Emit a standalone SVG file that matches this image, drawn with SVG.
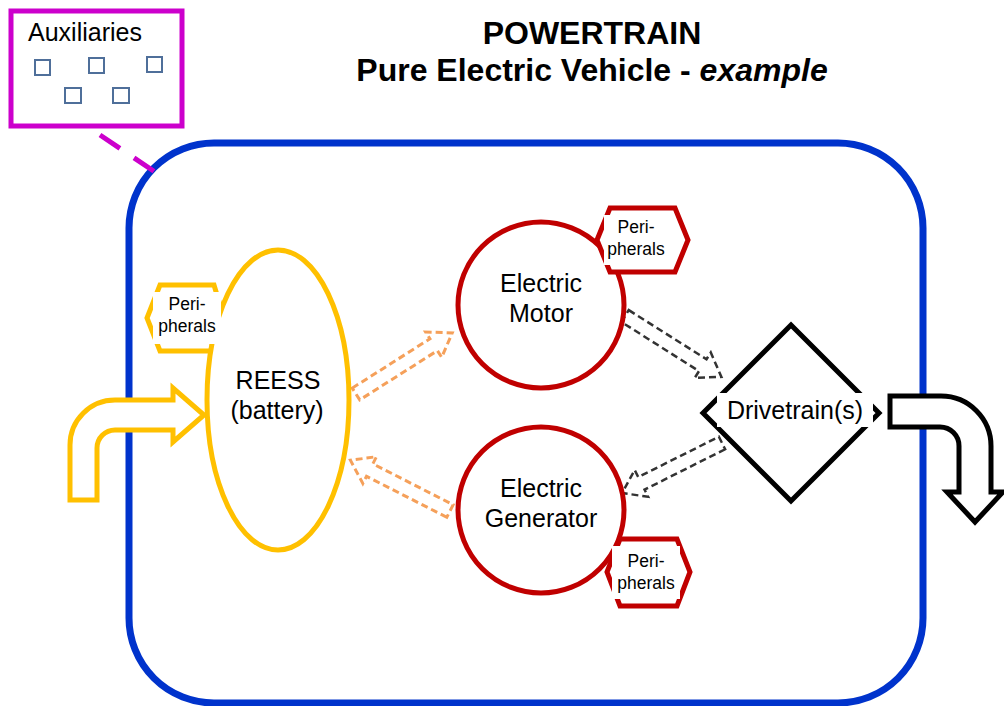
<svg xmlns="http://www.w3.org/2000/svg" width="1004" height="706" viewBox="0 0 1004 706">
<style>
text{font-family:"Liberation Sans",Arial,sans-serif;fill:#000}
.lbl{font-size:25px;text-anchor:middle}
.per{font-size:17.5px;text-anchor:middle}
.sq{fill:none;stroke:#4F6F9A;stroke-width:2}
.oarr{fill:#fff;stroke:#F5A05A;stroke-width:3;stroke-dasharray:7 4}
.karr{fill:#fff;stroke:#333;stroke-width:2.5;stroke-dasharray:7 4}
.wbox{fill:#fff}
</style>
<defs>
<polygon id="blk" points="0,-7 92,-7 92,-15 114,0 92,15 92,7 0,7"/>
</defs>
<rect width="1004" height="706" fill="#fff"/>
<g id="title">
<text x="592" y="44" font-size="32" font-weight="bold" text-anchor="middle">POWERTRAIN</text>
<text x="592" y="81" font-size="32" font-weight="bold" text-anchor="middle">Pure Electric Vehicle - <tspan font-style="italic">example</tspan></text>
</g>
<g id="powertrain">
<rect x="129" y="143" width="794" height="560" rx="85" ry="85" fill="none" stroke="#0033CC" stroke-width="7"/>
</g>
<g id="auxiliaries">
<rect x="11" y="11" width="171" height="115" fill="#fff" stroke="#CC00CC" stroke-width="5"/>
<text x="28" y="41" font-size="25">Auxiliaries</text>
<rect class="sq" x="35" y="60" width="15" height="15"/>
<rect class="sq" x="89" y="58" width="15" height="15"/>
<rect class="sq" x="147" y="57" width="15" height="15"/>
<rect class="sq" x="65" y="88" width="16" height="15"/>
<rect class="sq" x="113" y="88" width="16" height="15"/>
</g>
<g id="connectors">
<line x1="100" y1="135" x2="155" y2="172" stroke="#CC00CC" stroke-width="5" stroke-dasharray="24 17"/>
<path d="M70,500 L70,445 A45,45 0 0 1 115,400 L173,400 L173,388 L204,415 L173,442 L173,430 L115,430 A18,18 0 0 0 97,448 L97,500 Z" fill="#fff" stroke="#FFC000" stroke-width="5" stroke-linejoin="miter"/>
<use href="#blk" class="oarr" transform="translate(356,394) rotate(-32.4)"/>
<use href="#blk" class="oarr" transform="translate(450,511) rotate(-153) scale(0.98,1)"/>
<use href="#blk" class="karr" transform="translate(625,316) rotate(32.3)"/>
<use href="#blk" class="karr" transform="translate(722,443) rotate(153.4) scale(0.98,1)"/>
<path d="M890,396 L941,396 A50,50 0 0 1 991,446 L991,492 L1003,492 L975,522 L947,492 L959,492 L959,446 A19,19 0 0 0 940,427 L890,427 Z" fill="#fff" stroke="#000" stroke-width="5"/>
</g>
<g id="reess">
<polygon points="147,318 160,285 214,285 224,318 214,351 160,351" fill="#fff" stroke="#FFC000" stroke-width="5"/>
<ellipse cx="278" cy="400" rx="71" ry="150" fill="#fff" stroke="#FFC000" stroke-width="5"/>
<text class="lbl" x="278" y="389">REESS</text>
<text class="lbl" x="277" y="419">(battery)</text>
</g>
<g id="reess-peripherals">
<rect class="wbox" x="153" y="292" width="68" height="52"/>
<text class="per" x="187" y="310">Peri-</text>
<text class="per" x="187" y="332">pherals</text>
</g>
<g id="motor">
<circle cx="541" cy="305" r="83" fill="#fff" stroke="#C00000" stroke-width="5"/>
<text class="lbl" x="541" y="292">Electric</text>
<text class="lbl" x="541" y="322">Motor</text>
</g>
<g id="motor-peripherals">
<polygon points="597,240 610,208 675,208 688,240 675,272 610,272" fill="#fff" stroke="#C00000" stroke-width="5"/>
<rect class="wbox" x="604" y="215" width="66" height="50"/>
<text class="per" x="636" y="233">Peri-</text>
<text class="per" x="636" y="255">pherals</text>
</g>
<g id="generator">
<circle cx="541" cy="510" r="83" fill="#fff" stroke="#C00000" stroke-width="5"/>
<text class="lbl" x="541" y="497">Electric</text>
<text class="lbl" x="541" y="527">Generator</text>
</g>
<g id="generator-peripherals">
<polygon points="607,572 620,539 677,539 690,572 677,606 620,606" fill="#fff" stroke="#C00000" stroke-width="5"/>
<rect class="wbox" x="612" y="546" width="68" height="53"/>
<text class="per" x="646" y="567">Peri-</text>
<text class="per" x="646" y="589">pherals</text>
</g>
<g id="drivetrain">
<polygon points="791,325 879,413 791,501 703,413" fill="#fff" stroke="#000" stroke-width="5" stroke-linejoin="miter"/>
<rect class="wbox" x="717" y="393" width="156" height="34"/>
<text class="lbl" x="795" y="419">Drivetrain(s)</text>
</g>
</svg>
